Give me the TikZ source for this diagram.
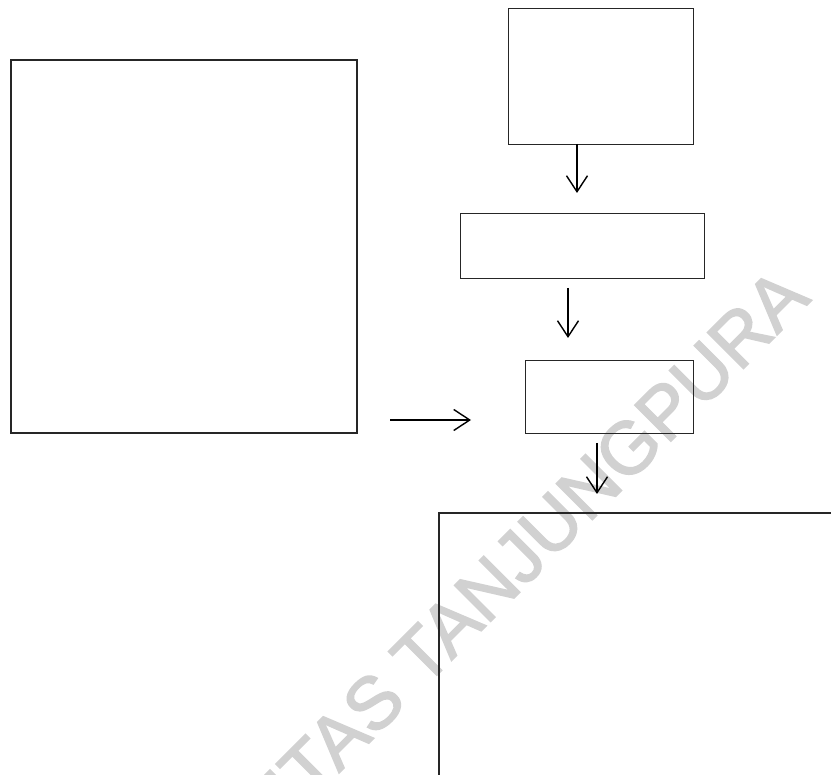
\documentclass[tikz,border=0pt]{standalone}
\usepackage{fontspec}
\setmainfont{Liberation Sans}
\newfontfamily\wmfont{Liberation Sans}[FakeBold=2]
\usetikzlibrary{arrows.meta}
\tikzset{
  box/.style={draw=black!85, line width=1.2pt, fill=none, inner sep=0pt},
  flow/.style={draw=black, line width=1.4pt,
    -{Straight Barb[length=16pt,width=21pt,line width=1.4pt]}},
  wmark/.style={text=black!18, font=\wmfont\fontsize{74}{74}\selectfont, inner sep=0pt}
}
\begin{document}
\begin{tikzpicture}[x=1pt,y=-1pt]
  \useasboundingbox (0,0) rectangle (831,775);
  \clip (0,0) rectangle (831,775);
  \fill[white] (0,0) rectangle (831,775);

  % faint diagonal watermark behind the chart
  \node[wmark, rotate=45, anchor=base east] (wm) at (812,300) {UNIVERSITAS TANJUNGPURA};

  % boxes
  \draw[box] (11,60) rectangle (357,433);
  \node[box, minimum width=185pt, minimum height=136pt, anchor=north west] (top) at (508,8) {};
  \node[box, minimum width=244pt, minimum height=65pt, anchor=north west] (mid) at (460,213) {};
  \node[box, minimum width=168pt, minimum height=73pt, anchor=north west] (low) at (525,360) {};
  \draw[box] (439,900) -- (439,513) -- (900,513);

  % connector end points
  \coordinate (a1) at (577,144);
  \coordinate (a2) at (577,193);
  \coordinate (b1) at (568,288);
  \coordinate (b2) at (568,338);
  \coordinate (c1) at (597,443);
  \coordinate (c2) at (597,494);
  \coordinate (h1) at (390,420);
  \coordinate (h2) at (471,420);

  \draw[flow] (a1) -- (a2);
  \draw[flow] (b1) -- (b2);
  \draw[flow] (c1) -- (c2);
  \draw[flow] (h1) -- (h2);
\end{tikzpicture}
\end{document}
